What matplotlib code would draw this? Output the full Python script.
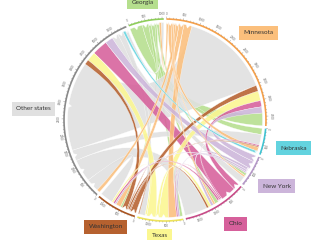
import numpy as np
import matplotlib.pyplot as plt
from matplotlib.path import Path
from matplotlib.patches import PathPatch

states = ['Georgia', 'Minnesota', 'Nebraska', 'New York', 'Ohio', 'Texas',
          'Washington', 'Other states']
fill_colors = ['#b5df8d', '#fbbf7c', '#63d3df', '#ccb5da', '#d6609b', '#fbf791',
               '#b6612f', '#e0e0e0']
ring_colors = ['#8fcf5a', '#f5a04a', '#3fc4d2', '#b598c8', '#c94b88', '#eee35a',
               '#a9541f', '#8a8a8a']

# migration flows (origin -> destination), link coloured by destination
origin = ['Minnesota', 'Nebraska', 'Texas', 'Ohio', 'Washington', 'New York',
          'Georgia', 'Georgia', 'Nebraska', 'New York', 'Ohio', 'Texas',
          'Washington', 'Other states', 'Minnesota', 'Minnesota', 'Minnesota',
          'Minnesota', 'Minnesota', 'Nebraska', 'Nebraska', 'Nebraska',
          'Other states', 'Other states', 'Ohio', 'Texas', 'Washington',
          'New York', 'Other states', 'Texas', 'Washington', 'Ohio', 'Ohio',
          'Ohio', 'Other states', 'Washington', 'Texas', 'Texas',
          'Other states', 'Washington']
destination = ['Georgia', 'Georgia', 'Georgia', 'Georgia', 'Georgia', 'Georgia',
               'Minnesota', 'Other states', 'Minnesota', 'Minnesota', 'Minnesota',
               'Minnesota', 'Minnesota', 'Minnesota', 'Other states', 'Washington',
               'Texas', 'Ohio', 'New York', 'Other states', 'Ohio', 'Washington',
               'Nebraska', 'New York', 'New York', 'New York', 'New York',
               'Other states', 'Ohio', 'Ohio', 'Ohio', 'Texas', 'Washington',
               'Other states', 'Texas', 'Texas', 'Other states', 'Washington',
               'Washington', 'Other states']
people = [390, 190, 80, 110, 60, 80,
          60, 80, 120, 50, 60,
          250, 150, 100, 2750, 180,
          300, 190, 190, 330, 40, 30,
          70, 240, 80, 60, 40,
          200, 480, 40, 60, 90, 60,
          700, 280, 50, 180, 30,
          150, 400]

# clockwise order of the link ends inside each sector
sector_order = {
    'Georgia': [0, 1, 2, 3, 4, 5, 6, 7],
    'Minnesota': [6, 8, 9, 10, 13, 12, 11, 14, 15, 16, 17, 18, 0],
    'Nebraska': [1, 19, 20, 21, 8, 22],
    'New York': [18, 23, 24, 25, 26, 5, 9, 27],
    'Ohio': [17, 28, 20, 29, 30, 3, 10, 24, 31, 32, 33],
    'Texas': [2, 25, 29, 11, 16, 31, 34, 35, 36, 37],
    'Washington': [15, 21, 32, 37, 38, 4, 12, 26, 30, 35, 39],
    'Other states': [13, 39, 33, 19, 14, 38, 34, 28, 23, 27, 36, 22, 7],
}

cx, cy = 165, 120
R_ring, R_link = 101, 97.5
gap = 1.5
start = -21.0


def pt(theta, r):
    t = np.radians(theta)
    return cx + r * np.sin(t), cy - r * np.cos(t)


def arc(t0, t1, r):
    n = max(2, int(abs(t1 - t0) * 2) + 2)
    return [pt(t, r) for t in np.linspace(t0, t1, n)]


totals = {s: sum(people[i] for i in sector_order[s]) for s in states}
k = (360 - gap * len(states)) / sum(totals.values())

sector_span = {}
src_end, dst_end = {}, {}
pos = start
for s in states:
    s0 = pos
    for i in sector_order[s]:
        w = people[i] * k
        if origin[i] == s and i not in src_end:
            src_end[i] = (pos, pos + w)
        else:
            dst_end[i] = (pos, pos + w)
        pos += w
    sector_span[s] = (s0, pos)
    pos += gap

fig = plt.figure(figsize=(3.3, 2.4), dpi=100)
ax = fig.add_axes([0, 0, 1, 1])
ax.set_xlim(0, 330)
ax.set_ylim(240, 0)
ax.set_aspect('equal')
ax.axis('off')


def link(i):
    s0, s1 = src_end[i]
    d0, d1 = dst_end[i]
    verts = arc(s0, s1, R_link)
    codes = [Path.MOVETO] + [Path.LINETO] * (len(verts) - 1)
    verts += [(cx, cy), pt(d0, R_link)]
    codes += [Path.CURVE3] * 2
    # arrow notch at the destination end
    mid = (d0 + d1) / 2
    hw = min((d1 - d0) / 2, 1.1)
    depth = min(3.0, (d1 - d0) * 1.6)
    a = arc(d0, mid - hw, R_link)[1:]
    verts += a + [pt(mid, R_link - depth)]
    codes += [Path.LINETO] * (len(a) + 1)
    b = arc(mid + hw, d1, R_link)
    verts += b
    codes += [Path.LINETO] * len(b)
    verts += [(cx, cy), pt(s0, R_link)]
    codes += [Path.CURVE3] * 2
    verts.append(pt(s0, R_link))
    codes.append(Path.CLOSEPOLY)
    c = fill_colors[states.index(destination[i])]
    ax.add_patch(PathPatch(Path(verts, codes), fc=c, ec='white', lw=0.25,
                           alpha=0.88))


def layer(i):
    if destination[i] == 'Georgia':
        return (0, -people[i])
    if destination[i] == 'Other states':
        return (1, -people[i])
    return (2, -people[i])


for i in sorted(range(len(people)), key=layer):
    link(i)

# outer ring with ticks
for s, rc in zip(states, ring_colors):
    t0, t1 = sector_span[s]
    xy = np.array(arc(t0, t1, R_ring))
    ax.plot(xy[:, 0], xy[:, 1], color=rc, lw=1.2, solid_capstyle='butt')
    for v in range(0, totals[s] + 1, 100):
        th = t0 + v * k
        major = v % 500 == 0
        p0 = pt(th, R_ring + 0.6)
        p1 = pt(th, R_ring + (2.2 if major else 1.3))
        ax.plot([p0[0], p1[0]], [p0[1], p1[1]], color='#777777', lw=0.25)
        if major:
            tx, ty = pt(th, R_ring + 5)
            rot = -th
            if 90 < th % 360 < 270:
                rot += 180
            ax.text(tx, ty, str(v), fontsize=2.0, color='#666666',
                    ha='center', va='center', rotation=rot)

# sector labels
for s, fc in zip(states, fill_colors):
    t0, t1 = sector_span[s]
    th = (t0 + t1) / 2
    if s == 'Other states':
        th -= 5
    if s == 'Ohio':
        th -= 4
    r = 117 + 15 * abs(np.sin(np.radians(th)))
    if 150 < th < 210:
        r -= 2
    x, y = pt(th, r)
    ax.text(x, y, s, fontsize=4.6, family='Lato', color='#333333',
            ha='center', va='center',
            bbox=dict(boxstyle='square,pad=0.7', fc=fc, ec='none'))

fig.savefig('out.png', dpi=100)
